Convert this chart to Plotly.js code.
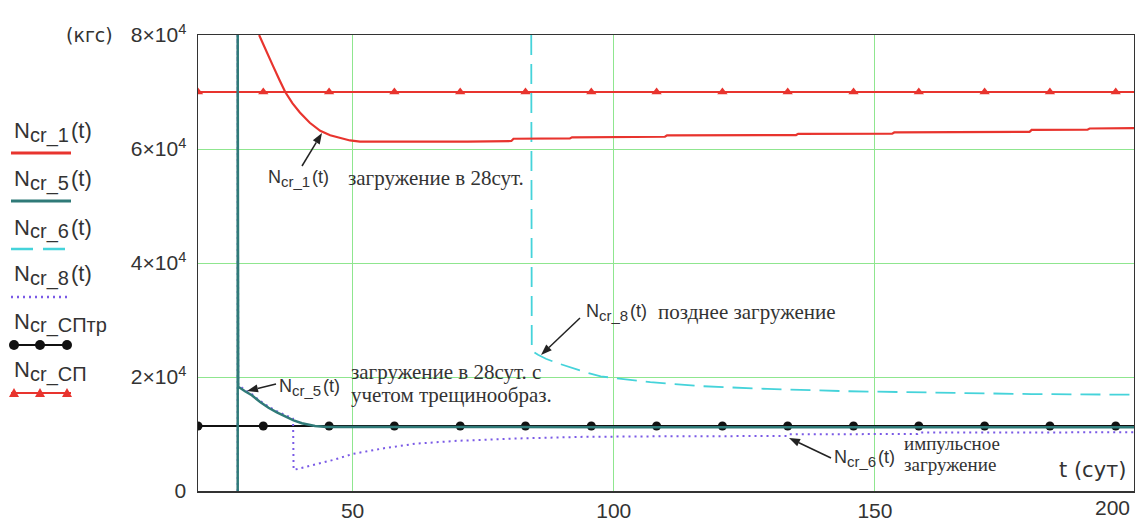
<!DOCTYPE html>
<html><head><meta charset="utf-8">
<script src="https://cdn.plot.ly/plotly-3.0.1.min.js"></script>
<style>html,body{margin:0;padding:0;background:#fff}</style>
</head><body><div id="chart" style="width:1135px;height:526px"></div>
<script>
// ---------- data ----------
const tN1 = [32.1, 33.5, 34.8, 36.0, 37.1, 38.5, 39.9, 41.8, 43.8, 45.7, 47.6, 49.5, 51.4, 60, 72, 80.4, 80.8, 91.6, 92.0, 109.8, 110.2, 134.9, 135.3, 153.3, 153.7, 179.6, 180.0, 190.7, 191.1, 199.6];
const yN1 = [80000, 77000, 74500, 72100, 70000, 68000, 66400, 64600, 63200, 62400, 61900, 61500, 61300, 61250, 61300, 61400, 61800, 61850, 62050, 62150, 62400, 62450, 62650, 62700, 62900, 63000, 63350, 63400, 63600, 63650];

const tN5 = [28.0, 28.0, 28.1, 29.4, 30.7, 32.3, 33.9, 35.5, 37.1, 38.7, 40.3, 41.5, 42.8, 45, 60, 100, 150, 199.6];
const yN5 = [0, 80000, 18300, 17500, 16800, 15600, 14600, 13800, 13100, 12400, 11900, 11600, 11400, 11250, 11200, 11200, 11200, 11200];

const tN6 = [84.2, 84.3, 85.5, 87, 89, 91.5, 94, 97.5, 101, 107, 116.6, 129.4, 145, 160, 180, 199.6];
const yN6 = [80000, 24600, 23900, 23200, 22500, 21700, 21000, 20100, 19700, 19100, 18400, 17900, 17500, 17300, 17000, 16900];

const tN8 = [28.0, 28.0, 28.1, 29.4, 30.7, 32.3, 33.9, 35.5, 37.1, 38.6, 38.7, 40, 43, 46.5, 50, 56, 62, 70, 81, 94, 110, 133.3, 133.6, 158.2, 158.5, 199.6];
const yN8 = [0, 80000, 18600, 17700, 17000, 15800, 14800, 14000, 13300, 12700, 3700, 4000, 4600, 5500, 6500, 7500, 8300, 8800, 9200, 9500, 9600, 9650, 9950, 10000, 10250, 10300];

const tLine = [20.4, 199.6];
const tMarks = [20.4, 32.9, 45.5, 58.0, 70.6, 83.1, 95.7, 108.2, 120.8, 133.3, 145.9, 158.4, 171.0, 183.5, 196.1];
const vSPtr = 11400;
const vSP = 70000;

const xTicks = [50, 100, 150];
const xTickText = ['50', '100', '150'];
const yTicks = [0, 20000, 40000, 60000, 80000];
const yTickText = ['0', '2×10<sup>4</sup>', '4×10<sup>4</sup>', '6×10<sup>4</sup>', '8×10<sup>4</sup>'];

// ---------- styles ----------
const cRed = '#e8342e', cTeal = '#2f7a78', cCyan = '#45d3da', cPurple = '#7a5ae6', cBlack = '#111111';
const cText = '#333333', cGrid = '#8fe68f';
const SANS = ['Liberation Sans', 'Arial', 'sans-serif'];
const SERIF = ['Liberation Serif', 'DejaVu Serif', 'Times New Roman', 'serif'];
const WIDE = ['DejaVu Sans', 'sans-serif'];
const fam = list => list.join(', ');
const cssFam = list => list.map(f => /serif$/.test(f) && f.indexOf(' ') < 0 ? f : '"' + f + '"').join(', ');

const L = 198, T = 35, W = 936, H = 456;
const px = x => (x - L) / W;
const py = y => (T + H - y) / H;

const traces = [
  {x: tLine, y: tLine.map(() => vSP), mode: 'lines', line: {color: cRed, width: 1.8}},
  {x: tMarks, y: tMarks.map(() => vSP), mode: 'markers', marker: {symbol: 'triangle-up', size: 9, color: cRed}},
  {x: tLine, y: tLine.map(() => vSPtr), mode: 'lines', line: {color: cBlack, width: 1.8}},
  {x: tMarks, y: tMarks.map(() => vSPtr), mode: 'markers', marker: {symbol: 'circle', size: 9, color: cBlack}},
  {x: tN8, y: yN8, mode: 'lines', line: {color: cPurple, width: 2, dash: '2px,4px'}},
  {x: tN5, y: yN5, mode: 'lines', line: {color: cTeal, width: 2.5}},
  {x: tN6, y: yN6, mode: 'lines', line: {color: cCyan, width: 1.8, dash: '20px,9px'}},
  {x: tN1, y: yN1, mode: 'lines', line: {color: cRed, width: 2.2}}
];

// text measuring
const cv = document.createElement('canvas').getContext('2d');
function tw(text, size, family) { cv.font = size + 'px ' + cssFam(family); return cv.measureText(text).width; }
function fit(text, width, family, maxSize) {
  const s = Math.round(10 * width / tw(text, 10, family) * 10) / 10;
  return Math.min(s, maxSize || 99);
}

const annotations = [];
const shapes = [];
function txt(x, y, text, size, family, opts) {
  annotations.push(Object.assign({xref: 'paper', yref: 'paper', x: px(x), y: py(y), text: text,
    showarrow: false, xanchor: 'left', yanchor: 'middle', align: 'left', borderpad: 0,
    font: {family: fam(family || SANS), size: size, color: cText}}, opts || {}));
}
// "N" with a near full-size subscript and an optional tail, like the Mathcad labels
function label(x, y, sub, tail, S, s, dy, gap) {
  let cx = x;
  txt(cx, y, 'N', S); cx += tw('N', S, SANS);
  txt(cx, y + dy, sub, s); cx += tw(sub, s, SANS) + gap;
  if (tail) { txt(cx, y, tail, S); cx += tw(tail, S, SANS); }
  return cx;
}
// pointer arrow from a label (tail) to the curve (head), pixel positions
function arrow(xt, yt, xh, yh) {
  const dx = xh - xt, dy = yh - yt, len = Math.hypot(dx, dy), ux = dx / len, uy = dy / len;
  const hl = 11, hw = 4;
  const bx = xh - ux * hl, by = yh - uy * hl;
  shapes.push({type: 'line', xref: 'paper', yref: 'paper', x0: px(xt), y0: py(yt), x1: px(bx), y1: py(by),
    line: {color: '#222', width: 1.5}});
  shapes.push({type: 'path', xref: 'paper', yref: 'paper',
    path: 'M' + px(xh) + ',' + py(yh) + ' L' + px(bx - uy * hw) + ',' + py(by + ux * hw) + ' L' + px(bx + uy * hw) + ',' + py(by - ux * hw) + ' Z',
    fillcolor: '#222', line: {color: '#222', width: 0}});
}

// axis extras
txt(65, 35, '(кгс)', 19, WIDE);
txt(1131, 507, '200', 21, SANS, {xanchor: 'right'});
txt(1128, 470, 't (сут)', 21, WIDE, {xanchor: 'right'});

// legend texts
label(13, 130, 'cr_1', '(t)', 22, 20, 5, 2);
label(13, 178, 'cr_5', '(t)', 22, 20, 5, 2);
label(13, 227, 'cr_6', '(t)', 22, 20, 5, 2);
label(13, 273, 'cr_8', '(t)', 22, 20, 5, 2);
label(13, 321, 'cr_СПтр', '', 22, 20, 5, 0);
label(13, 369, 'cr_СП', '', 22, 20, 5, 0);

// in-plot labels
const s1 = 'загружение в 28сут.';
label(267, 177, 'cr_1', '(t)', 18, 15, 4, 2);
txt(347, 178, s1, fit(s1, 180, SERIF, 21), SERIF);
arrow(302, 166, 322, 133);

label(278, 386, 'cr_5', '(t)', 18, 15, 4, 2);
arrow(276, 384, 247, 391);
const s2a = 'загружение в 28сут. с', s2b = 'учетом трещинообраз.';
txt(350, 372, s2a, fit(s2a, 200, SERIF, 21), SERIF);
txt(350, 395, s2b, fit(s2b, 202, SERIF, 21), SERIF);

label(585, 311, 'cr_8', '(t)', 18, 15, 4, 2);
const s3 = 'позднее загружение';
txt(657, 312, s3, fit(s3, 188, SERIF, 21), SERIF);
arrow(580, 318, 541, 355);

label(833, 457, 'cr_6', '(t)', 18, 15, 4, 2);
const s4a = 'импульсное', s4b = 'загружение';
txt(903, 443, s4a, fit(s4a, 114, SERIF, 19), SERIF);
txt(903, 464, s4b, fit(s4b, 110, SERIF, 19), SERIF);
arrow(831, 458, 789, 438);

// legend samples
function seg(y, color, width, dash) {
  shapes.push({type: 'line', xref: 'paper', yref: 'paper', x0: px(11), x1: px(71), y0: py(y), y1: py(y),
    line: {color: color, width: width, dash: dash || 'solid'}});
}
seg(153, cRed, 3);
seg(201, cTeal, 3);
seg(249, cCyan, 2.5, '22px,10px');
seg(297, cPurple, 2.5, '2px,4px');
seg(345, cBlack, 2);
seg(393, cRed, 2);
[14, 40, 67].forEach(cx => {
  shapes.push({type: 'circle', xref: 'paper', yref: 'paper', x0: px(cx - 5), x1: px(cx + 5), y0: py(345 + 5), y1: py(345 - 5),
    fillcolor: cBlack, line: {color: cBlack, width: 0}});
  shapes.push({type: 'path', xref: 'paper', yref: 'paper',
    path: 'M' + px(cx - 5) + ',' + py(397) + ' L' + px(cx + 5) + ',' + py(397) + ' L' + px(cx) + ',' + py(388) + ' Z',
    fillcolor: cRed, line: {color: cRed, width: 0}});
});

const layout = {
  width: 1135, height: 526,
  margin: {l: L, r: 1135 - L - W, t: T, b: 526 - T - H, pad: 0},
  paper_bgcolor: '#fff', plot_bgcolor: '#fff',
  showlegend: false,
  font: {family: fam(SANS), size: 21, color: cText},
  xaxis: {range: [20.4, 199.6], tickvals: xTicks, ticktext: xTickText, ticks: '', showgrid: true, gridcolor: cGrid, gridwidth: 1,
    zeroline: false, showline: true, mirror: true, linecolor: '#333', linewidth: 1.5, tickfont: {size: 21, color: cText}},
  yaxis: {range: [0, 80000], tickvals: yTicks, ticktext: yTickText, ticks: '', showgrid: true, gridcolor: cGrid, gridwidth: 1,
    zeroline: false, showline: true, mirror: true, linecolor: '#333', linewidth: 1.5, tickfont: {size: 21, color: cText},
    ticklabelstandoff: 6},
  annotations: annotations,
  shapes: shapes
};

Plotly.newPlot('chart', traces, layout, {staticPlot: true});
</script>
</body></html>
